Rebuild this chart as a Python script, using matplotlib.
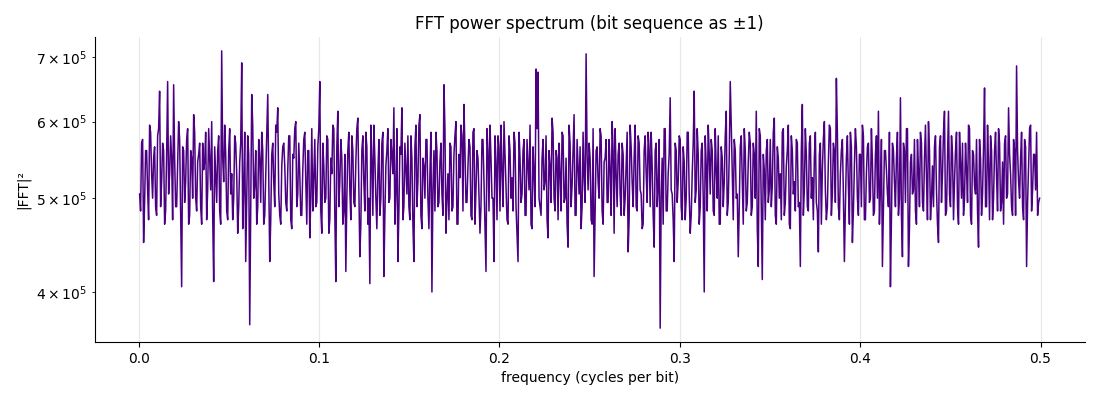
import matplotlib.pyplot as plt
import numpy as np

# |FFT|^2 values, in units of 1e5, evenly spaced in frequency.
# power_even_e5 holds every other sample, power_odd_e5 the samples in between.
power_even_e5 = [
    5.05, 5.7, 4.5, 5.6, 5.1, 5.95, 5.3, 5.5, 4.9, 5.8, 6.45, 5.2, 5.6, 4.85, 6.6,
    5.3, 5.5, 6.55, 4.9, 5.4, 5.75, 4.05, 5.6, 5.2, 5.9, 4.8, 5.5, 6.1, 5.0, 5.45,
    5.7, 4.7, 5.35, 5.85, 5.1, 5.5, 6.0, 4.1, 5.3, 5.6, 4.85, 7.1, 5.2, 5.55, 4.75,
    5.9, 5.3, 5.0, 5.7, 4.6, 5.45, 6.9, 5.1, 4.3, 5.8, 3.7, 6.4, 5.0, 5.6, 4.9,
    5.5, 5.85, 4.7, 5.3, 6.4, 4.3, 5.55, 5.2, 5.95, 6.2, 4.8, 5.4, 5.7, 4.95, 5.35,
    5.8, 4.65, 5.5, 6.0, 5.05, 5.3, 4.8, 5.75, 5.2, 5.6, 4.55, 5.9, 5.25, 4.9, 5.65,
    6.6, 4.6, 5.4, 5.0, 5.75, 4.75, 5.3, 5.9, 4.1, 6.15, 5.2, 5.5, 4.85, 4.2, 5.6,
    5.1, 5.8, 4.95, 5.45, 6.05, 4.35, 5.6, 5.2, 5.85, 4.7, 4.08, 5.5, 5.95, 5.0, 5.3,
    4.8, 5.7, 4.15, 5.4, 5.9, 5.0, 5.55, 6.2, 5.1, 4.3, 5.65, 6.2, 4.9, 5.35, 5.8,
    4.75, 5.5, 4.3, 5.95, 5.2, 6.1, 4.65, 5.4, 5.75, 5.0, 5.3, 4.0, 5.6, 5.85, 4.9,
    5.45, 5.05, 6.55, 4.6, 5.3, 5.7, 4.85, 5.55, 6.0, 4.7, 5.25, 5.8, 6.25, 4.95, 5.4,
    5.65, 4.75, 5.9, 5.1, 5.5, 4.6, 5.75, 5.2, 4.2, 5.6, 5.95, 5.0, 4.3, 5.45, 5.8,
    4.85, 5.35, 6.0, 5.1, 4.7, 5.6, 5.25, 5.85, 4.9, 4.3, 5.5, 5.05, 5.75, 4.8, 5.4,
    5.95, 4.65, 5.3, 6.8, 6.75, 4.9, 5.5, 5.1, 5.8, 4.55, 5.4, 6.05, 5.0, 5.6, 4.75,
    5.3, 5.85, 4.95, 5.5, 4.45, 5.7, 5.15, 6.1, 4.8, 5.4, 5.65, 4.9, 5.25, 7.05, 5.1,
    5.5, 4.7, 4.15, 5.6, 5.2, 5.9, 4.85, 5.45, 5.75, 4.95, 5.35, 6.0, 4.6, 5.3, 5.55,
    5.05, 5.7, 4.8, 5.4, 4.4, 5.95, 5.2, 5.5, 4.9, 5.8, 5.1, 4.65, 5.6, 5.3, 5.85,
    4.9, 5.4, 4.45, 5.7, 5.15, 3.67, 5.5, 5.9, 4.85, 5.3, 6.35, 5.05, 4.3, 5.6, 5.2,
    5.75, 4.75, 5.45, 5.0, 5.85, 4.6, 5.3, 6.45, 5.1, 5.55, 4.9, 5.7, 4.0, 5.4, 5.95,
    5.05, 5.6, 4.8, 5.35, 5.8, 4.7, 5.5, 5.2, 6.15, 4.95, 6.6, 5.3, 5.75, 5.0, 4.35,
    5.65, 5.25, 5.9, 4.85, 5.45, 5.7, 4.9, 5.55, 6.15, 4.25, 5.8, 4.12, 5.35, 5.6, 4.95,
    5.75, 5.15, 6.05, 4.7, 5.5, 5.3, 5.85, 4.8, 5.4, 5.95, 4.65, 5.6, 5.2, 5.75, 4.9,
    4.25, 6.25, 5.1, 5.55, 4.85, 5.8, 5.25, 5.5, 4.95, 4.4, 5.7, 5.35, 6.0, 4.75, 5.45,
    5.9, 5.05, 5.6, 6.65, 4.9, 5.3, 5.75, 4.3, 5.5, 5.15, 5.85, 4.5, 5.4, 5.65, 4.8,
    5.55, 5.95, 4.75, 5.3, 5.7, 5.0, 5.45, 4.85, 5.8, 6.15, 5.1, 4.25, 5.6, 5.35, 4.9,
    4.05, 5.7, 5.2, 5.5, 4.8, 6.35, 4.35, 5.6, 5.9, 4.25, 5.45, 5.05, 5.75, 4.7, 5.35,
    5.85, 4.95, 5.5, 5.25, 6.0, 4.75, 5.4, 5.65, 5.1, 4.5, 5.8, 5.3, 6.15, 4.85, 6.15,
    4.9, 5.55, 5.2, 5.85, 4.7, 5.45, 5.7, 5.0, 5.35, 5.95, 4.8, 5.6, 5.15, 5.75, 4.45,
    5.5, 5.05, 6.5, 4.9, 5.4, 5.8, 4.75, 5.6, 5.25, 5.9, 4.85, 5.45, 5.7, 5.0, 6.2,
    5.3, 4.8, 5.6, 6.85, 5.2, 5.5, 4.9, 5.75, 4.25, 5.4, 5.95, 5.1, 5.55, 5.85, 4.95,
]

power_odd_e5 = [
    4.85, 5.75, 4.95, 5.6, 4.75, 5.85, 5.0, 5.65, 4.8, 5.9, 4.9, 5.7, 4.7, 5.55, 5.05,
    5.8, 4.75, 5.5, 4.9, 6.0, 4.8, 5.65, 4.95, 5.75, 4.7, 5.6, 5.0, 5.85, 4.85, 5.55,
    4.9, 5.7, 5.45, 4.75, 5.9, 5.1, 4.8, 5.65, 4.95, 5.8, 4.7, 5.5, 5.95, 4.85, 5.6,
    5.05, 4.75, 5.8, 5.3, 4.9, 5.7, 4.65, 5.85, 5.0, 5.55, 4.8, 5.95, 5.15, 4.7, 5.75,
    4.95, 5.6, 4.8, 5.9, 5.2, 4.75, 5.7, 4.9, 5.85, 5.05, 4.7, 5.65, 5.4, 4.85, 5.8,
    4.75, 5.55, 5.9, 4.9, 5.7, 4.8, 5.35, 5.85, 4.7, 5.6, 5.0, 4.85, 5.75, 4.95, 5.9,
    4.85, 5.7, 4.95, 5.8, 4.6, 5.5, 5.95, 4.8, 5.65, 4.9, 5.75, 4.7, 5.55, 5.0, 5.85,
    4.75, 5.6, 4.9, 5.9, 5.1, 4.7, 5.8, 4.85, 5.65, 5.0, 5.95, 4.8, 5.5, 4.65, 5.75,
    5.0, 5.85, 4.8, 5.6, 4.95, 5.75, 5.3, 4.7, 5.9, 4.85, 5.55, 4.75, 5.7, 5.05, 4.9,
    5.8, 4.7, 5.65, 4.9, 5.95, 4.8, 5.5, 5.0, 5.75, 4.65, 5.85, 5.1, 4.85, 5.6, 4.95,
    5.7, 4.8, 5.9, 5.0, 4.75, 5.65, 4.9, 5.8, 4.7, 5.55, 5.95, 4.85, 5.6, 4.95, 5.75,
    4.8, 5.85, 4.7, 5.6, 5.05, 4.9, 5.75, 4.65, 5.9, 4.85, 5.5, 5.0, 5.8, 4.75, 5.65,
    5.95, 4.9, 5.55, 4.75, 5.8, 5.0, 4.85, 5.7, 4.6, 5.85, 4.95, 5.6, 4.8, 5.75, 5.1,
    4.7, 5.65, 4.9, 5.9, 5.0, 4.8, 5.75, 5.2, 4.75, 5.6, 4.95, 5.85, 4.85, 5.5, 5.7,
    4.85, 5.8, 5.0, 4.7, 5.95, 4.9, 5.6, 4.8, 5.75, 5.05, 4.65, 5.85, 4.95, 5.55, 5.7,
    4.75, 5.9, 4.85, 5.65, 5.0, 5.8, 4.7, 5.5, 4.95, 5.75, 4.8, 5.6, 5.9, 4.9, 5.7,
    4.8, 5.55, 5.0, 5.85, 4.75, 5.65, 4.9, 5.95, 4.85, 5.7, 5.05, 4.7, 5.8, 4.95, 5.6,
    5.85, 4.8, 5.6, 4.9, 5.75, 5.0, 4.7, 5.9, 4.85, 5.55, 5.1, 4.75, 5.7, 4.95, 5.8,
    4.9, 5.65, 4.75, 5.85, 5.05, 4.8, 5.7, 4.95, 5.9, 4.7, 5.6, 5.0, 5.8, 4.85, 5.55,
    5.75, 4.85, 5.9, 5.0, 4.7, 5.65, 4.9, 5.8, 4.8, 5.55, 5.95, 4.75, 5.6, 5.05, 4.9,
    5.8, 4.7, 5.6, 4.95, 5.85, 4.8, 5.7, 5.0, 4.65, 5.9, 4.85, 5.55, 4.75, 5.75, 5.1,
    4.9, 5.85, 4.8, 5.65, 5.0, 4.75, 5.9, 4.95, 5.6, 4.7, 5.8, 5.05, 4.85, 5.7, 4.95,
    5.6, 4.8, 5.9, 4.9, 5.7, 5.0, 4.75, 5.85, 4.85, 5.55, 4.7, 5.75, 5.1, 4.9, 5.95,
    4.8, 5.7, 4.95, 5.85, 4.75, 5.6, 5.05, 4.9, 5.8, 4.7, 5.65, 4.85, 5.9, 5.0, 5.55,
    4.9, 5.8, 4.75, 5.65, 4.95, 5.9, 4.8, 5.55, 5.0, 4.7, 5.75, 4.85, 5.6, 5.05, 5.85,
    4.75, 5.6, 4.9, 5.85, 5.0, 4.8, 5.7, 4.95, 5.9, 4.65, 5.55, 5.1, 4.85, 5.75, 4.9,
    5.7, 4.85, 5.95, 4.75, 5.6, 5.0, 4.9, 5.8, 4.7, 5.65, 4.95, 5.85, 4.8, 5.5, 5.05,
    5.8, 4.75, 5.6, 4.9, 5.85, 5.0, 4.8, 5.7, 4.95, 5.9, 4.7, 5.55, 5.05, 4.85, 5.75,
    4.8, 5.65, 4.9, 5.95, 4.75, 5.6, 5.0, 5.85, 4.85, 5.7, 4.95, 4.7, 5.8, 5.05, 5.55,
    4.9, 5.75, 4.8, 5.6, 5.0, 5.85, 4.75, 5.65, 4.95, 5.9, 4.85, 5.55, 5.1, 4.8, 5.0,
]

n = min(len(power_even_e5), len(power_odd_e5))
power = np.column_stack([power_even_e5[:n], power_odd_e5[:n]]).ravel() * 1e5
freqs = np.linspace(0.0005, 0.4995, len(power))

fig, ax = plt.subplots(figsize=(11, 4), dpi=100)
ax.plot(freqs, power, color="indigo", linewidth=1.1)
ax.set_yscale("log")
ax.set_title("FFT power spectrum (bit sequence as ±1)")
ax.set_xlabel("frequency (cycles per bit)")
ax.set_ylabel("|FFT|²")
ax.grid(axis="x", alpha=0.3)
ax.spines["top"].set_visible(False)
ax.spines["right"].set_visible(False)
fig.subplots_adjust(left=0.086, right=0.986, top=0.9075, bottom=0.145)
plt.savefig("out.png")
